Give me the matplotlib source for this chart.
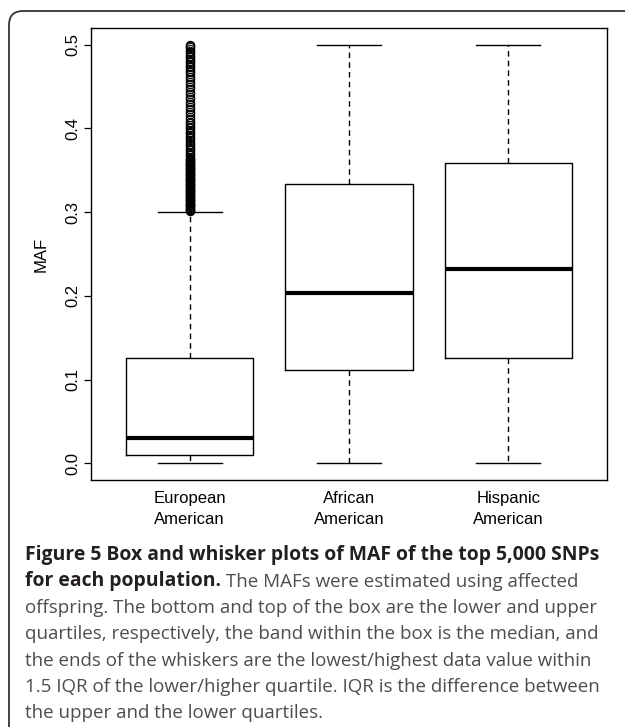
import matplotlib
matplotlib.use("Agg")
import matplotlib.pyplot as plt
from matplotlib.patches import FancyBboxPatch
from matplotlib.transforms import IdentityTransform

# box summary per population (MAF)
groups = ["European\nAmerican", "African\nAmerican", "Hispanic\nAmerican"]
q1 = [0.010, 0.111, 0.126]
med = [0.030, 0.204, 0.232]
q3 = [0.126, 0.334, 0.359]
whislo = [0.0, 0.0, 0.0]
whishi = [0.300, 0.500, 0.500]

# outlying SNPs above the upper whisker (European American only)
eu_fliers = [
    0.301, 0.302, 0.303, 0.304, 0.305, 0.306, 0.307, 0.308, 0.309, 0.310,
    0.311, 0.312, 0.313, 0.314, 0.315, 0.316, 0.317, 0.318, 0.319, 0.320,
    0.321, 0.322, 0.323, 0.324, 0.325, 0.326, 0.327, 0.328, 0.329, 0.330,
    0.331, 0.332, 0.333, 0.334, 0.335, 0.336, 0.337, 0.338, 0.339, 0.340,
    0.341, 0.342, 0.343, 0.344, 0.345, 0.346, 0.347, 0.348, 0.349, 0.350,
    0.351, 0.352, 0.353, 0.354, 0.355, 0.356, 0.357, 0.358, 0.359, 0.360,
    0.361, 0.362, 0.363, 0.364, 0.366, 0.368, 0.370, 0.372, 0.374, 0.376,
    0.378, 0.380, 0.382, 0.384, 0.386, 0.388, 0.390, 0.392, 0.394, 0.396,
    0.398, 0.400, 0.402, 0.404, 0.406, 0.408, 0.411, 0.414, 0.417, 0.420,
    0.423, 0.426, 0.429, 0.432, 0.435, 0.438, 0.441, 0.444, 0.447, 0.450,
    0.453, 0.456, 0.459, 0.462, 0.465, 0.467, 0.469, 0.471, 0.473, 0.475,
    0.477, 0.479, 0.481, 0.483, 0.485, 0.487, 0.489, 0.491, 0.493, 0.495,
    0.497, 0.499, 0.500,
]
fliers = [eu_fliers, [], []]

yticks = [0.0, 0.1, 0.2, 0.3, 0.4, 0.5]
ytick_labels = ["0.0", "0.1", "0.2", "0.3", "0.4", "0.5"]

caption_bold_1 = "Figure 5 Box and whisker plots of MAF of the top 5,000 SNPs"
caption_bold_2 = "for each population."
caption_rest = [
    " The MAFs were estimated using affected",
    "offspring. The bottom and top of the box are the lower and upper",
    "quartiles, respectively, the band within the box is the median, and",
    "the ends of the whiskers are the lowest/highest data value within",
    "1.5 IQR of the lower/higher quartile. IQR is the difference between",
    "the upper and the lower quartiles.",
]

W, H = 625, 727
fig = plt.figure(figsize=(W / 100, H / 100), dpi=100)
fig.patch.set_facecolor("white")

# rounded frame around the figure panel
frame = FancyBboxPatch((9, -40), 700, H - 11 + 40,
                       boxstyle="round,pad=0,rounding_size=14",
                       transform=IdentityTransform(), fill=False,
                       edgecolor="#333333", linewidth=1.3)
fig.add_artist(frame)

ax = fig.add_axes([91 / W, 1 - 480 / H, (607 - 91) / W, (480 - 28) / H])

stats = []
for i in range(len(groups)):
    stats.append(dict(label=groups[i], q1=q1[i], med=med[i], q3=q3[i],
                      whislo=whislo[i], whishi=whishi[i], fliers=fliers[i]))

ax.bxp(stats, positions=[1, 2, 3], widths=0.8, capwidths=0.4,
       boxprops=dict(color="black", linewidth=1.0),
       medianprops=dict(color="black", linewidth=3.0, solid_capstyle="butt"),
       whiskerprops=dict(color="black", linewidth=1.0, linestyle=(0, (4, 3))),
       capprops=dict(color="black", linewidth=1.0),
       flierprops=dict(marker="o", markerfacecolor="none",
                       markeredgecolor="black", markersize=6,
                       markeredgewidth=0.8, linestyle="none"))

ax.set_xlim(0.38, 3.62)
ax.set_ylim(-0.02, 0.52)

font = "Liberation Sans"
ax.set_yticks(yticks)
ax.set_yticklabels(ytick_labels, rotation=90, va="center",
                   fontsize=12, family=font)
ax.set_xticks([1, 2, 3])
ax.set_xticklabels(groups, fontsize=12, family=font, linespacing=1.45)
ax.tick_params(axis="y", length=5, width=0.9, pad=3)
ax.tick_params(axis="x", length=0, pad=8)
ax.set_ylabel("MAF", fontsize=12, family=font)
ax.yaxis.set_label_coords(-0.082, 0.5)
for s in ax.spines.values():
    s.set_linewidth(1.0)

# caption: bold title run followed by regular text
cap_font = "Open Sans"
x0 = 25 / W
y_first = 1 - 560 / H
step = 26.4 / H

# size bold and regular runs so their widest lines span the panel
renderer = fig.canvas.get_renderer()


def fit_size(text, target, **kw):
    probe = fig.text(x0, y_first, text, fontsize=12, family=cap_font, **kw)
    w = probe.get_window_extent(renderer).width
    probe.remove()
    return 12 * target / w


fs_b = fit_size(caption_bold_1, 572, weight="bold")
fs_r = fit_size(caption_rest[4], 573)

t1 = fig.text(x0, y_first, caption_bold_1, fontsize=fs_b, family=cap_font,
              weight="bold", color="#231f20", va="baseline")
t2 = fig.text(x0, y_first - step, caption_bold_2, fontsize=fs_b,
              family=cap_font, weight="bold", color="#231f20",
              va="baseline")
ax.annotate(caption_rest[0], xy=(1, 0), xycoords=t2, fontsize=fs_r,
            family=cap_font, color="#4d4d4d", va="bottom",
            annotation_clip=False)
for k, line in enumerate(caption_rest[1:]):
    fig.text(x0, y_first - step * (k + 2), line, fontsize=fs_r,
             family=cap_font, color="#4d4d4d", va="baseline")

fig.savefig("out.png", dpi=100)
